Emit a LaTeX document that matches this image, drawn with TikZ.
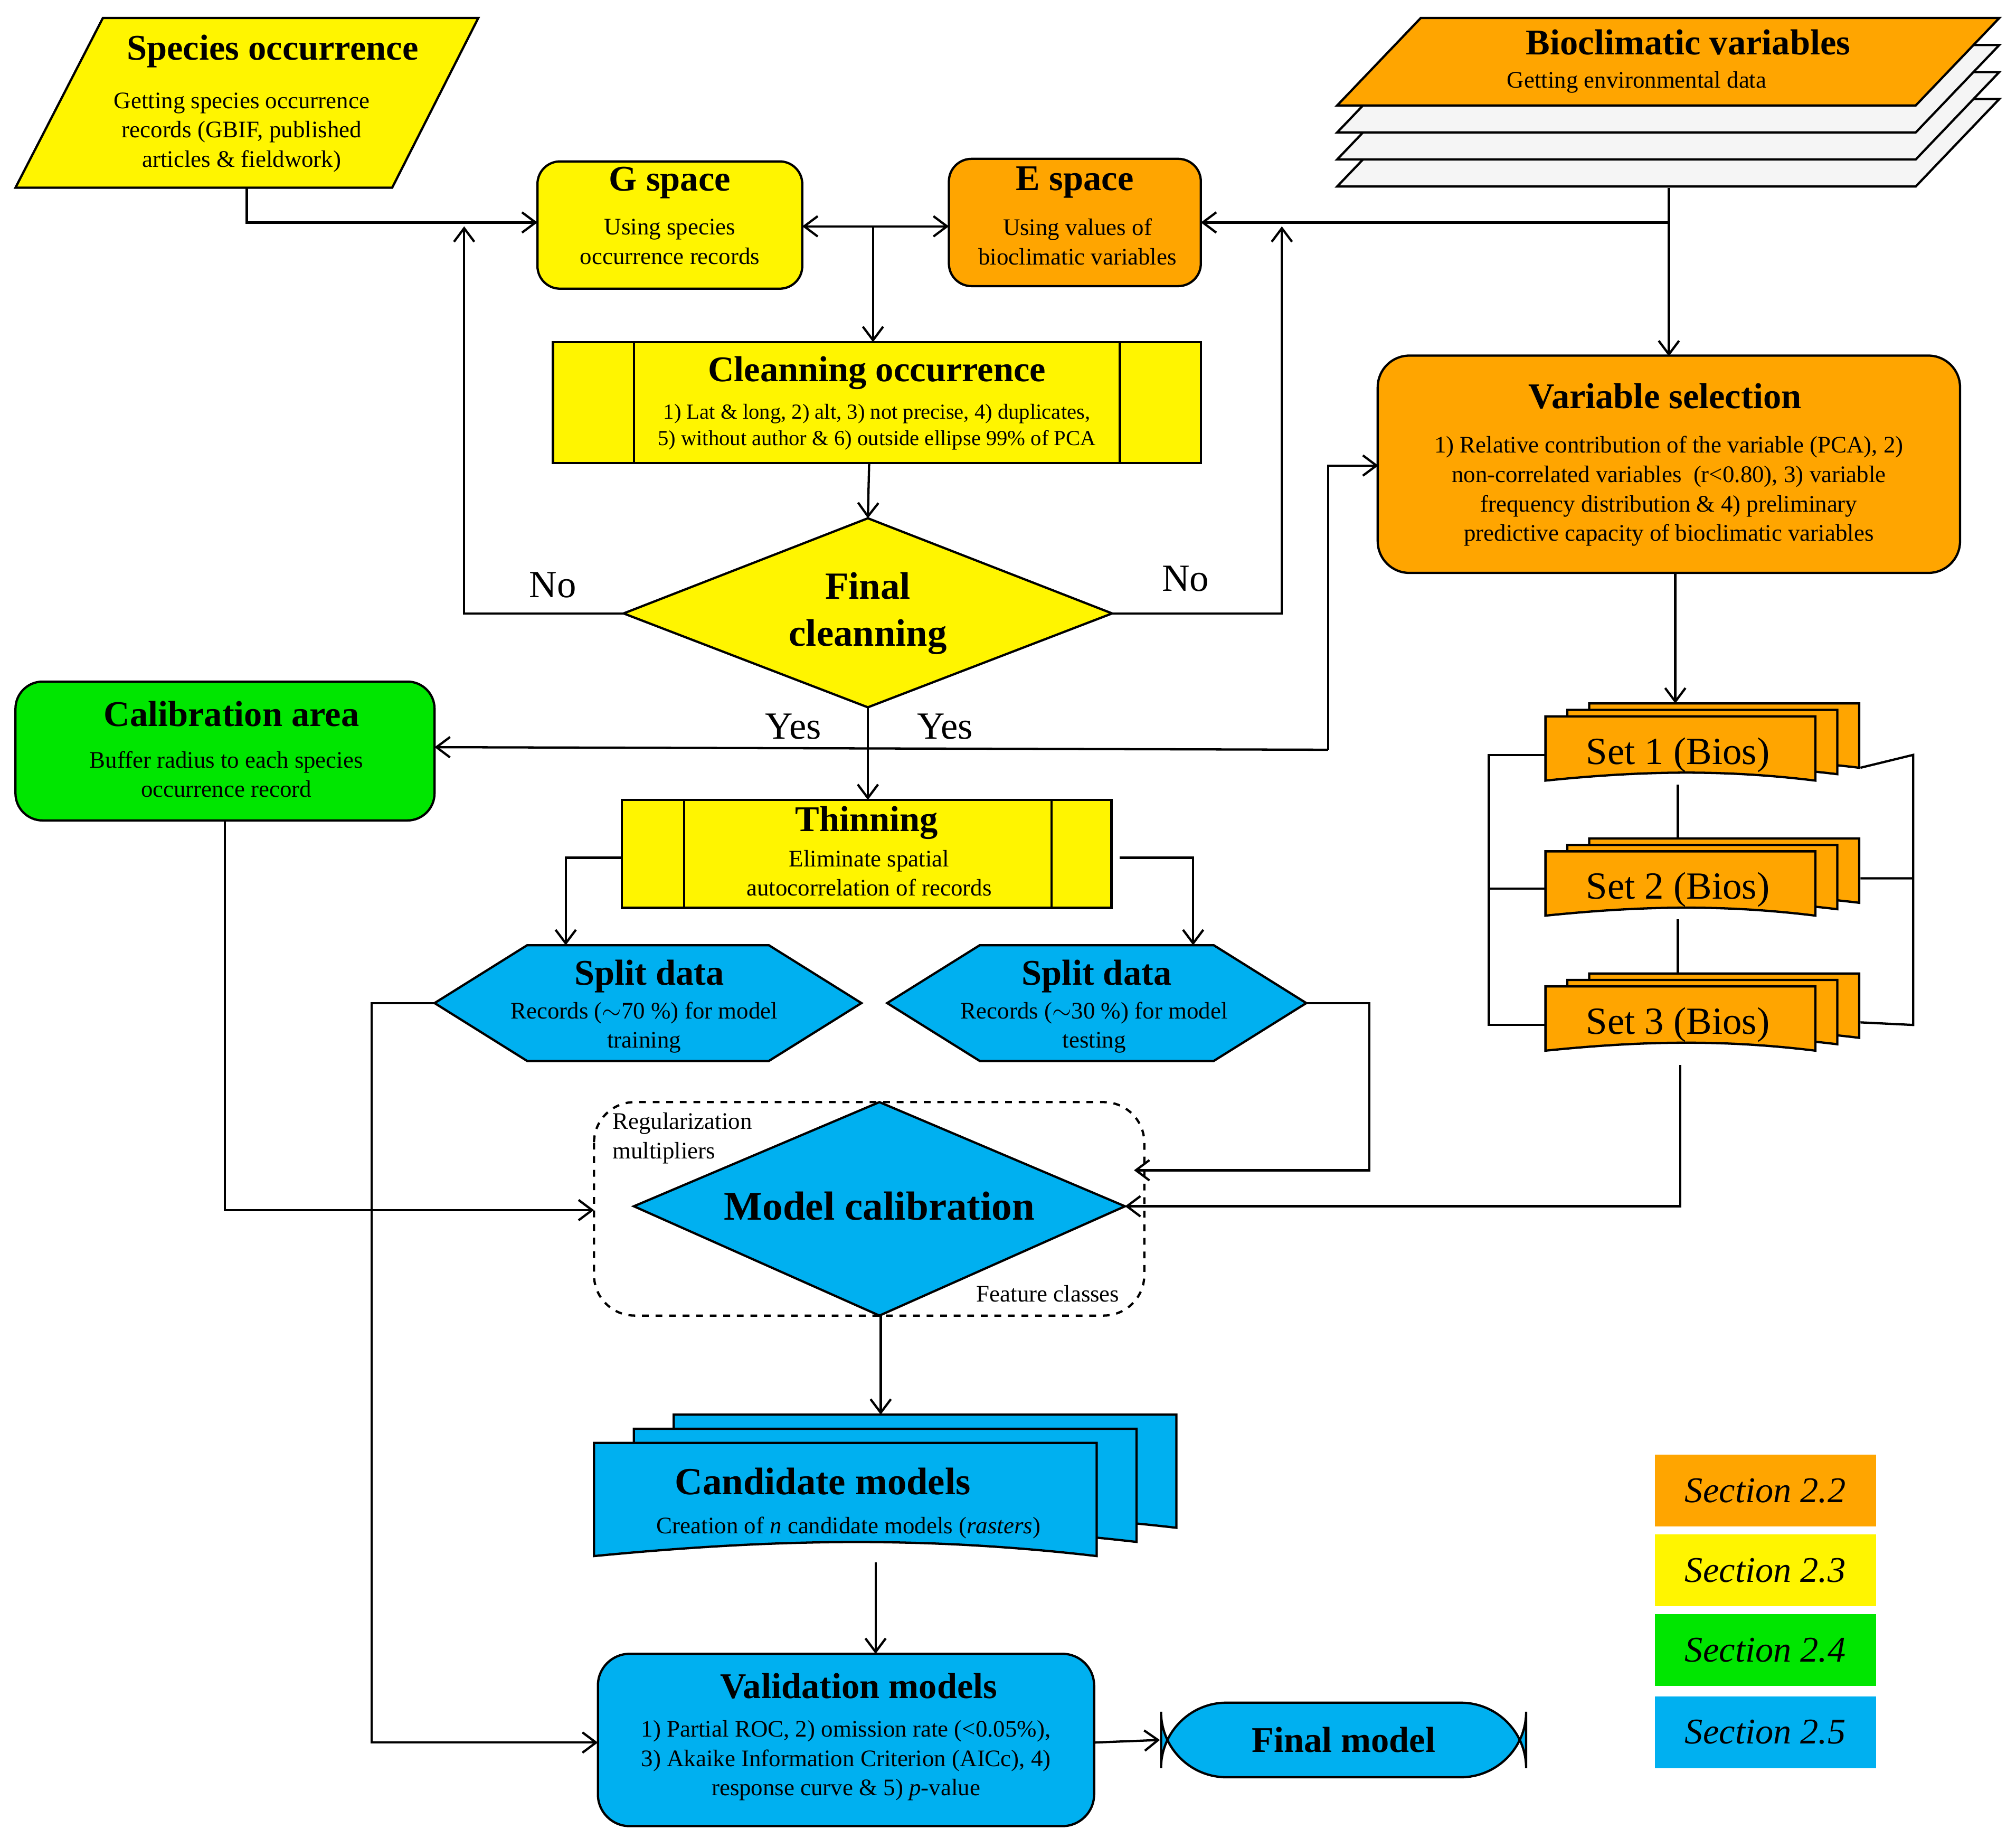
\documentclass[tikz,border=0pt]{standalone}
\usepackage{fontspec}
\setmainfont{Liberation Serif}
\usetikzlibrary{arrows.meta,positioning}
\definecolor{yel}{RGB}{255,245,0}
\definecolor{org}{RGB}{255,165,0}
\definecolor{grn}{RGB}{0,230,0}
\definecolor{blu}{RGB}{0,176,240}
\newcommand\ttl{\fontsize{16}{19}\selectfont\bfseries}
\newcommand\bdy{\fontsize{10.5}{13}\selectfont}
\newcommand\sml{\fontsize{9.5}{11.5}\selectfont}
% stack of document shapes: x, y (top of front), w, h, dx, dy, colour
\newcommand\docstack[7]{%
  \foreach \k in {2,1,0}{%
    \fill[#7,draw=black,line width=1pt]
      ({#1+\k*#5},{#2+\k*#6}) -- ++(#3,0) -- ++(0,#4)
      .. controls ++({-0.35*#3},{-0.18*#4}) and ++({0.35*#3},{-0.15*#4}) .. ++(-#3,0) -- cycle;}}
\tikzset{
  shp/.style={draw,line width=1pt},
  conn/.style={line width=1pt,-{Straight Barb[length=6pt,width=9pt]}},
  line/.style={line width=1pt},
  title/.style={font=\ttl,align=center,inner sep=0pt},
  body/.style={font=\bdy,align=center,inner sep=0pt},
  leg/.style={minimum width=3.44cm,minimum height=1.12cm,font=\fontsize{16}{19}\selectfont\itshape}
}
\begin{document}
\begin{tikzpicture}[x=0.02cm,y=-0.02cm]
\useasboundingbox (0,0) rectangle (1568,1437);

%--- top row -------------------------------------------------
\filldraw[shp,fill=yel] (80,14) -- (372,14) -- (305,146) -- (12,146) -- cycle;
\node(spT) [title] at (212,40) {Species occurrence};
\node(spB) [body] at (188,103) {Getting species occurrence\\records (GBIF, published\\articles \& fieldwork)};
\coordinate (spS) at (192,146);

\foreach \k in {3,2,1}
  \filldraw[shp,fill=gray!8] (1105,{14+21*\k}) -- (1555,{14+21*\k}) -- (1490,{82+21*\k}) -- (1040,{82+21*\k}) -- cycle;
\filldraw[shp,fill=org] (1105,14) -- (1555,14) -- (1490,82) -- (1040,82) -- cycle;
\node(bioT) [title] at (1313,33) {Bioclimatic variables};
\node(bioB) [body] at (1273,64) {Getting environmental data};
\coordinate (bioS) at (1298,146);

\node(gsp) [shp,fill=yel,rounded corners=10pt,minimum width=4.12cm,minimum height=1.98cm] at (521,175) {};
\node [title] at (521,142) {G space};
\node [body] at (521,188) {Using species\\occurrence records};
\node(esp) [shp,fill=org,rounded corners=10pt,minimum width=3.92cm,minimum height=1.98cm] at (836,173) {};
\node [title] at (836,142) {E space};
\node [body] at (838,188) {Using values of\\bioclimatic variables};

%--- cleaning ------------------------------------------------
\node(cln) [shp,fill=yel,minimum width=10.08cm,minimum height=1.88cm] at (682,313) {};
\draw[line] (493,266) -- (493,360) (871,266) -- (871,360);
\node [title] at (682,290) {Cleanning occurrence};
\node [font=\sml,align=center,inner sep=0pt] at (682,332) {1) Lat \& long, 2) alt, 3) not precise, 4) duplicates,\\5) without author \& 6) outside ellipse 99\% of PCA};

\filldraw[shp,fill=yel] (485,477) -- (675,403) -- (865,477) -- (675,550) -- cycle;
\coordinate (fcL) at (485,477); \coordinate (fcR) at (865,477);
\coordinate (fcT) at (675,403); \coordinate (fcB) at (675,550);
\node(fcT2) [title,font=\fontsize{17}{21}\selectfont\bfseries] at (675,477) {Final\\cleanning};

\node(vs) [shp,fill=org,rounded corners=14pt,minimum width=9.06cm,minimum height=3.38cm] at (1298,361) {};
\node [title] at (1295,308) {Variable selection};
\node [body] at (1298,382) {1) Relative contribution of the variable (PCA), 2)\\non-correlated variables\enspace(r<0.80), 3) variable\\frequency distribution \& 4) preliminary\\predictive capacity of bioclimatic variables};

\node(cal) [shp,fill=grn,rounded corners=12pt,minimum width=6.52cm,minimum height=2.16cm] at (175,584) {};
\node [title] at (180,555) {Calibration area};
\node [body] at (176,602) {Buffer radius to each species\\occurrence record};

%--- thinning and split --------------------------------------
\node(thn) [shp,fill=yel,minimum width=7.62cm,minimum height=1.68cm] at (674,664) {};
\draw[line] (532,622) -- (532,706) (818,622) -- (818,706);
\node [title] at (674,640) {Thinning};
\node [body] at (676,679) {Eliminate spatial\\autocorrelation of records};

\filldraw[shp,fill=blu] (338,780) -- (410,735) -- (598,735) -- (670,780) -- (598,825) -- (410,825) -- cycle;
\coordinate (splL) at (338,780);
\node [title] at (505,759) {Split data};
\node [body] at (501,799) {Records ($\sim$70 \%) for model\\training};
\filldraw[shp,fill=blu] (690,780) -- (762,735) -- (944,735) -- (1016,780) -- (944,825) -- (762,825) -- cycle;
\coordinate (splR) at (1016,780);
\node [title] at (853,759) {Split data};
\node [body] at (851,799) {Records ($\sim$30 \%) for model\\testing};

%--- sets ----------------------------------------------------
\draw[line] (1305,610) -- (1305,655) (1305,715) -- (1305,760);
\docstack{1202}{557}{210}{50}{17}{-5}{org}
\docstack{1202}{662}{210}{50}{17}{-5}{org}
\docstack{1202}{767}{210}{50}{17}{-5}{org}
\node(s1) [font=\fontsize{17}{20}\selectfont] at (1305,587) {Set 1 (Bios)};
\node(s2) [font=\fontsize{17}{20}\selectfont] at (1305,692) {Set 2 (Bios)};
\node(s3) [font=\fontsize{17}{20}\selectfont] at (1305,797) {Set 3 (Bios)};
\draw[line] (1202,587) -- (1158,587) -- (1158,797) -- (1202,797) (1158,691) -- (1202,691);
\draw[line] (1447,597) -- (1488,587) -- (1488,797) -- (1447,795) (1488,683) -- (1447,683);

%--- model calibration ---------------------------------------
\draw[line,dashed,rounded corners=18pt] (462,857) rectangle (890,1023);
\filldraw[shp,fill=blu] (493,938) -- (684,857) -- (875,938) -- (684,1023) -- cycle;
\node(mc) [title,font=\fontsize{18}{21}\selectfont\bfseries] at (684,938) {Model calibration};
\node [font=\bdy,align=left,anchor=west,inner sep=0pt] at (476,885) {Regularization\\multipliers};
\node [font=\bdy,inner sep=0pt] at (815,1006) {Feature classes};

\docstack{462}{1122}{391}{88}{31}{-11}{blu}
\node(cmT) [title,font=\fontsize{17}{20}\selectfont\bfseries] at (640,1152) {Candidate models};
\node(cmB) [body] at (660,1188) {Creation of \textit{n} candidate models (\textit{rasters})};

\node(val) [shp,fill=blu,rounded corners=14pt,minimum width=7.72cm,minimum height=2.68cm] at (658,1353) {};
\node [title] at (668,1311) {Validation models};
\node [body] at (658,1369) {1) Partial ROC, 2) omission rate (<0.05\%),\\3) Akaike Information Criterion (AICc), 4)\\response curve \& 5) \textit{p}-value};
\node(fin) [shp,fill=blu,rounded corners=29pt,minimum width=5.68cm,minimum height=1.16cm,font=\ttl] at (1045,1353) {Final model};

%--- legend --------------------------------------------------
\node(l22) [leg,fill=org] at (1373,1159) {Section 2.2};
\node(l23) [leg,fill=yel] at (1373,1221) {Section 2.3};
\node(l24) [leg,fill=grn] at (1373,1283) {Section 2.4};
\node(l25) [leg,fill=blu] at (1373,1347) {Section 2.5};

%--- connectors ----------------------------------------------
\draw[conn] (spS) |- (418,173);
\draw[line,{Straight Barb[length=6pt,width=9pt]}-{Straight Barb[length=6pt,width=9pt]}] (624,176) -- (738,176);
\draw[conn] (679,176) -- (679,266);
\draw[conn] (bioS) |- (934,173);
\draw[conn] (bioS) -- (1298,277);
\draw[conn] (676,360) -- (fcT);
\draw[conn] (fcL) -- (361,477) -- (361,176);
\draw[conn] (fcR) -- (997,477) -- (997,176);
\node [font=\fontsize{17}{20}\selectfont] at (430,455) {No};
\node [font=\fontsize{17}{20}\selectfont] at (922,450) {No};
\draw[conn] (fcB) -- (675,622);
\node [font=\fontsize{17}{20}\selectfont] at (617,565) {Yes};
\node [font=\fontsize{17}{20}\selectfont] at (735,565) {Yes};
\draw[conn] (1033,583) -- (338,581);
\draw[conn] (1033,583) -- (1033,362) -- (1072,362);
\draw[conn] (1303,446) -- (1303,547);
\draw[conn] (484,667) -- (440,667) -- (440,735);
\draw[conn] (871,667) -- (928,667) -- (928,735);
\draw[conn] (175,638) |- (462,941);
\draw[conn] (splL) -- (289,780) |- (465,1355);
\draw[conn] (splR) -- (1065,780) |- (882,910);
\draw[conn] (1307,828) |- (875,938);
\draw[conn] (685,1023) -- (685,1100);
\draw[conn] (681,1215) -- (681,1286);
\draw[conn] (851,1355) -- (fin.west);
\end{tikzpicture}
\end{document}
